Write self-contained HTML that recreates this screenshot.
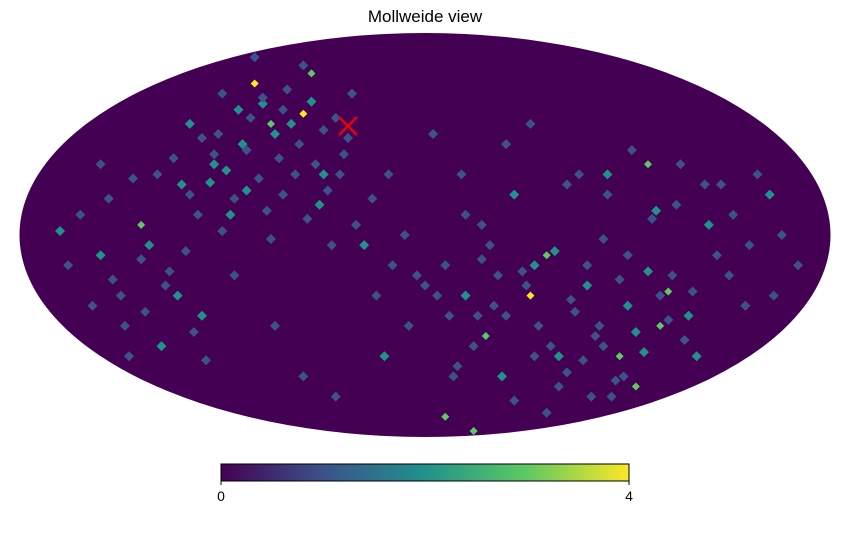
<!DOCTYPE html>
<html><head><meta charset="utf-8"><style>
body{margin:0;background:#fff;width:850px;height:540px;overflow:hidden;font-family:"Liberation Sans",sans-serif}
</style></head><body>
<svg width="850" height="540">
<text x="425" y="22" text-anchor="middle" font-size="17">Mollweide view</text>
<defs>
<clipPath id="ell"><ellipse cx="425" cy="235" rx="405.5" ry="202"/></clipPath>
<linearGradient id="vir" x1="0" x2="1" y1="0" y2="0">
<stop offset="0" stop-color="#440154"/><stop offset="0.25" stop-color="#3b528b"/>
<stop offset="0.5" stop-color="#21918c"/><stop offset="0.75" stop-color="#5ec962"/>
<stop offset="1" stop-color="#fde725"/></linearGradient>
</defs>
<ellipse cx="425" cy="235" rx="405.5" ry="202" fill="#440154"/>
<g id="cells" clip-path="url(#ell)"></g>
<g stroke="#e8000b" stroke-width="2.5">
<line x1="339" y1="117" x2="357" y2="135"/><line x1="357" y1="117" x2="339" y2="135"/></g>
<rect x="221" y="464" width="408" height="17" fill="url(#vir)" stroke="#000" stroke-width="1"/>
<line x1="221" y1="481" x2="221" y2="485" stroke="#000"/><line x1="629" y1="481" x2="629" y2="485" stroke="#000"/>
<text x="221" y="501" text-anchor="middle" font-size="14">0</text>
<text x="629" y="501" text-anchor="middle" font-size="14">4</text>
</svg>
<script>
// normalized map coords u (-1..1 left→right), v (-1..1 top→bottom), value 0-4
const cellU=[-0.42,-0.38,-0.30,-0.45,-0.52,-0.25,-0.35,-0.48,-0.20,-0.60,-0.70,-0.15,-0.05,0.10,0.22,0.35,0.45,0.55,0.62,0.70,0.80,0.30,0.18,0.40,0.50,0.58,0.26,0.15,-0.10,-0.80,-0.75,-0.55,-0.65,-0.30,-0.22,0.05,0.12,0.65,0.75,0.85,0.33,0.48,0.52,-0.40,-0.28,0.02,-0.58,0.27,0.60,0.42,
-0.50,-0.46,-0.43,-0.40,-0.37,-0.34,-0.31,-0.28,-0.25,-0.22,-0.55,-0.52,-0.49,-0.44,-0.41,-0.36,-0.33,-0.27,-0.24,-0.19,-0.58,-0.53,-0.47,-0.39,-0.32,-0.26,-0.21,-0.17,-0.62,-0.56,-0.50,-0.44,-0.38,-0.29,-0.23,-0.13,-0.66,-0.59,-0.51,-0.42,-0.35,-0.30,-0.18,-0.09,
-0.85,-0.78,-0.72,-0.68,-0.63,-0.88,-0.82,-0.74,-0.69,-0.90,-0.80,-0.73,-0.64,-0.57,-0.77,-0.70,-0.61,-0.54,-0.47,-0.37,-0.12,-0.02,0.06,0.14,
0.05,0.10,0.16,0.20,0.24,0.28,0.32,0.36,0.40,0.44,0.48,0.08,0.13,0.19,0.25,0.31,0.37,0.43,0.49,0.55,0.22,0.27,0.33,0.39,0.46,0.52,0.58,0.64,0.30,0.35,0.41,0.47,0.54,0.60,0.66,0.72,0.38,0.45,0.51,0.57,0.63,0.69,0.76,0.82,0.88,0.92,0.86,0.79,0.73,0.67,0.61,0.56,0.50,0.44,0.14,0.20,0.26,0.09,0.03,-0.04,-0.08,0.00,0.07,0.17,0.12];
const cellV=[-0.75,-0.55,-0.60,-0.45,-0.35,-0.30,-0.20,-0.10,-0.40,-0.25,-0.05,0.05,0.00,-0.10,-0.20,-0.25,-0.30,-0.35,-0.15,-0.05,0.05,0.10,0.20,0.25,0.35,0.45,0.30,0.50,0.60,0.10,0.30,0.40,0.55,0.70,0.80,0.90,0.97,0.40,0.20,-0.20,0.60,0.60,0.75,-0.65,-0.80,-0.50,-0.55,0.15,0.28,0.50,
-0.70,-0.62,-0.58,-0.68,-0.50,-0.72,-0.45,-0.66,-0.52,-0.58,-0.48,-0.40,-0.32,-0.42,-0.28,-0.38,-0.55,-0.35,-0.22,-0.48,-0.20,-0.26,-0.18,-0.12,-0.30,-0.15,-0.30,-0.05,-0.38,-0.10,-0.02,-0.22,0.02,-0.08,0.05,-0.18,-0.30,0.08,-0.50,-0.88,-0.62,-0.84,-0.70,-0.30,
-0.10,-0.18,-0.28,0.05,0.18,0.15,0.35,0.45,0.38,-0.02,-0.35,0.60,0.25,0.48,0.22,0.12,0.30,0.62,0.20,0.45,0.30,0.20,0.40,0.12,
0.15,0.30,0.05,0.40,0.18,0.45,0.08,0.32,0.15,0.55,0.22,0.65,0.40,0.70,0.25,0.55,0.38,0.45,0.70,0.18,0.82,0.60,0.75,0.62,0.80,0.48,0.30,0.52,0.88,0.68,0.80,0.72,0.58,0.42,0.28,0.10,-0.30,-0.20,-0.42,-0.12,-0.35,-0.25,-0.10,-0.30,0.00,0.15,0.30,0.35,-0.25,0.60,0.20,-0.08,0.10,0.02,-0.05,-0.45,-0.55,-0.30,0.30,0.45,0.15,0.25,0.70,0.35,0.55,0.40];
const cellVal=[4,3,4,2,2,2,1,2,1,2,3,2,1,1,2,1,2,3,1,2,1,3,1,2,2,3,4,3,2,2,1,2,2,1,1,3,3,2,1,2,2,3,3,2,3,1,2,2,3,1,
1,2,1,1,2,1,1,2,1,1,1,1,2,1,1,1,2,1,1,1,1,2,1,1,1,2,1,1,1,1,1,2,1,1,1,1,1,1,1,1,1,1,1,1,
1,1,1,2,1,1,1,1,1,2,1,1,1,1,1,1,2,1,1,1,1,1,1,1,
1,2,1,1,1,1,2,1,1,1,1,1,1,2,1,1,1,1,1,2,1,1,1,1,1,2,1,1,1,1,1,1,2,1,1,1,1,1,1,2,1,1,1,1,1,1,1,1,1,2,1,1,1,1,1,1,1,1,1,1,1,1,1,1,1,1];
const pal=["#440154","#3b528b","#21918c","#5ec962","#fde725"];
const g=document.getElementById('cells');
const cx=425,cy=235,rx=405.5,ry=202;
const n=Math.min(cellU.length,cellV.length,cellVal.length);
for(let i=0;i<n;i++){
  const x=cx+cellU[i]*rx, y=cy+cellV[i]*ry, s=cellVal[i]>2?4:5;
  const p=document.createElementNS('http://www.w3.org/2000/svg','polygon');
  p.setAttribute('points',`${x},${y-s} ${x+s},${y} ${x},${y+s} ${x-s},${y}`);
  p.setAttribute('fill',pal[Math.max(0,Math.min(4,cellVal[i]))]);
  
  
  g.appendChild(p);
}
</script>
</body></html>
